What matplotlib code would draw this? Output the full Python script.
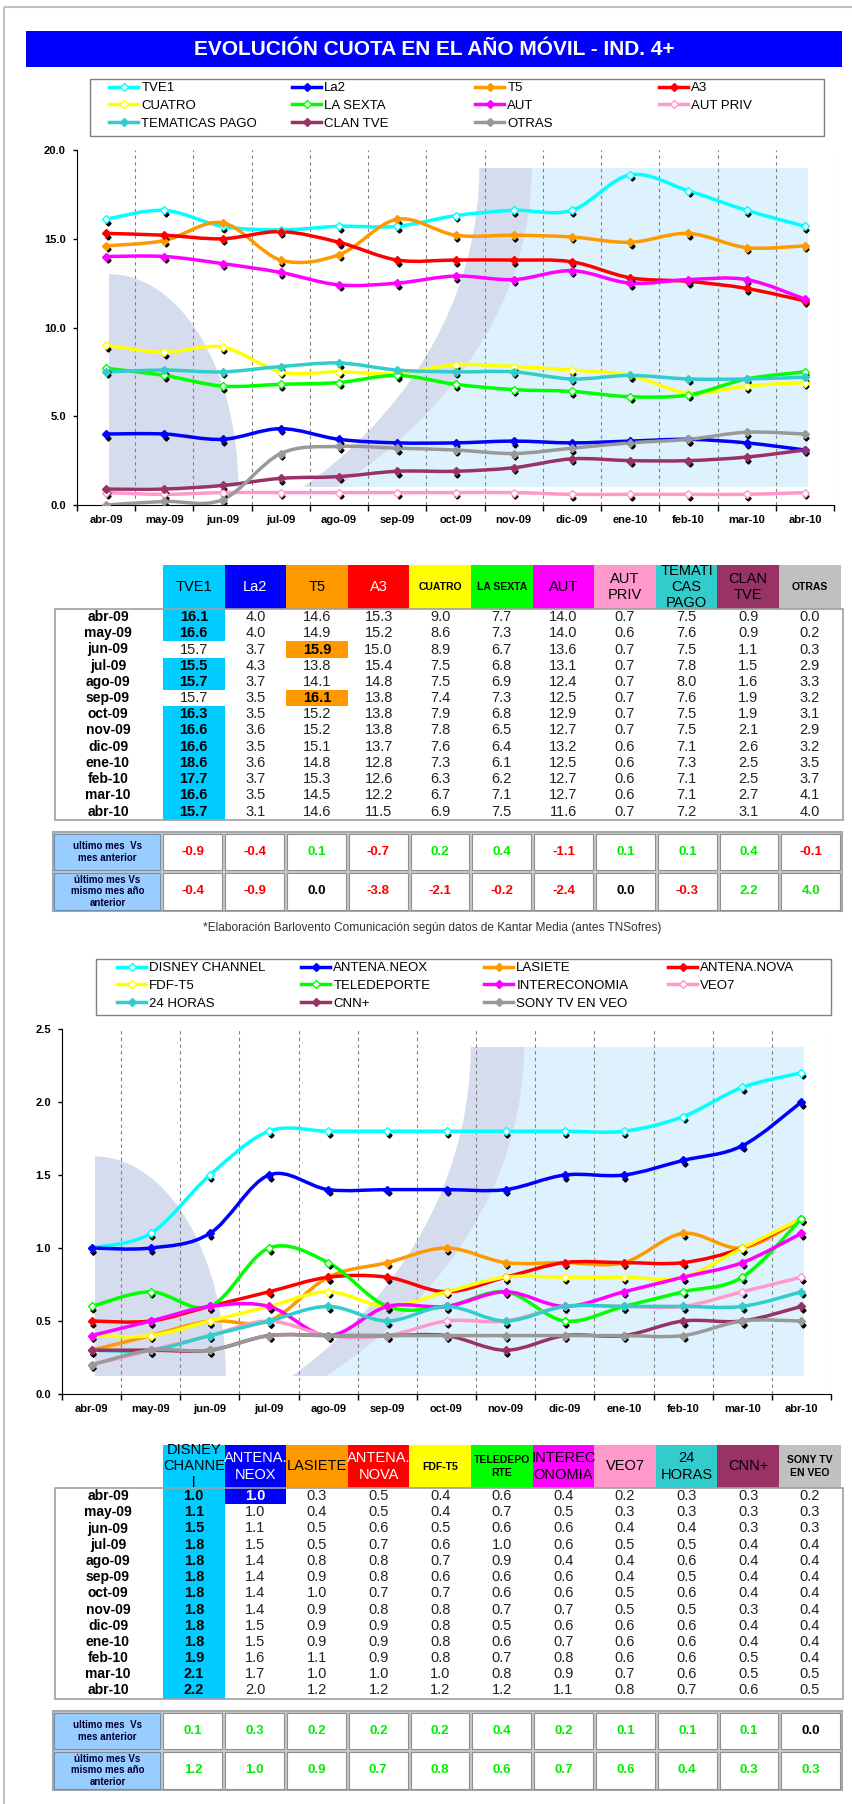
import numpy as np
import matplotlib
matplotlib.use("Agg")
import matplotlib.pyplot as plt
import matplotlib.transforms as mtransforms
from matplotlib.path import Path
from matplotlib.patches import PathPatch, Rectangle, Ellipse
from matplotlib.lines import Line2D

W, H = 853, 1804
plt.rcParams["font.family"] = ["Liberation Sans", "DejaVu Sans"]

months = ["abr-09", "may-09", "jun-09", "jul-09", "ago-09", "sep-09", "oct-09",
          "nov-09", "dic-09", "ene-10", "feb-10", "mar-10", "abr-10"]

# --- cadenas generalistas (cuota %, ind. 4+)
names1 = ["TVE1", "La2", "T5", "A3", "CUATRO", "LA SEXTA", "AUT", "AUT PRIV",
          "TEMATICAS PAGO", "CLAN TVE", "OTRAS"]
heads1 = ["TVE1", "La2", "T5", "A3", "CUATRO", "LA SEXTA", "AUT", "AUT\nPRIV",
          "TEMATI\nCAS\nPAGO", "CLAN\nTVE", "OTRAS"]
tve1 = [16.1, 16.6, 15.7, 15.5, 15.7, 15.7, 16.3, 16.6, 16.6, 18.6, 17.7, 16.6, 15.7]
la2 = [4.0, 4.0, 3.7, 4.3, 3.7, 3.5, 3.5, 3.6, 3.5, 3.6, 3.7, 3.5, 3.1]
t5 = [14.6, 14.9, 15.9, 13.8, 14.1, 16.1, 15.2, 15.2, 15.1, 14.8, 15.3, 14.5, 14.6]
a3 = [15.3, 15.2, 15.0, 15.4, 14.8, 13.8, 13.8, 13.8, 13.7, 12.8, 12.6, 12.2, 11.5]
cuatro = [9.0, 8.6, 8.9, 7.5, 7.5, 7.4, 7.9, 7.8, 7.6, 7.3, 6.3, 6.7, 6.9]
lasexta = [7.7, 7.3, 6.7, 6.8, 6.9, 7.3, 6.8, 6.5, 6.4, 6.1, 6.2, 7.1, 7.5]
aut = [14.0, 14.0, 13.6, 13.1, 12.4, 12.5, 12.9, 12.7, 13.2, 12.5, 12.7, 12.7, 11.6]
autpriv = [0.7, 0.6, 0.7, 0.7, 0.7, 0.7, 0.7, 0.7, 0.6, 0.6, 0.6, 0.6, 0.7]
tematicas = [7.5, 7.6, 7.5, 7.8, 8.0, 7.6, 7.5, 7.5, 7.1, 7.3, 7.1, 7.1, 7.2]
clantve = [0.9, 0.9, 1.1, 1.5, 1.6, 1.9, 1.9, 2.1, 2.6, 2.5, 2.5, 2.7, 3.1]
otras = [0.0, 0.2, 0.3, 2.9, 3.3, 3.2, 3.1, 2.9, 3.2, 3.5, 3.7, 4.1, 4.0]
var_mes1 = [-0.9, -0.4, 0.1, -0.7, 0.2, 0.4, -1.1, 0.1, 0.1, 0.4, -0.1]
var_anio1 = [-0.4, -0.9, 0.0, -3.8, -2.1, -0.2, -2.4, 0.0, -0.3, 2.2, 4.0]

# --- TDT
names2 = ["DISNEY CHANNEL", "ANTENA.NEOX", "LASIETE", "ANTENA.NOVA", "FDF-T5",
          "TELEDEPORTE", "INTERECONOMIA", "VEO7", "24 HORAS", "CNN+", "SONY TV EN VEO"]
heads2 = ["DISNEY\nCHANNE\nl", "ANTENA.\nNEOX", "LASIETE", "ANTENA.\nNOVA", "FDF-T5",
          "TELEDEPO\nRTE", "INTEREC\nONOMIA", "VEO7", "24\nHORAS", "CNN+", "SONY TV\nEN VEO"]
disney = [1.0, 1.1, 1.5, 1.8, 1.8, 1.8, 1.8, 1.8, 1.8, 1.8, 1.9, 2.1, 2.2]
neox = [1.0, 1.0, 1.1, 1.5, 1.4, 1.4, 1.4, 1.4, 1.5, 1.5, 1.6, 1.7, 2.0]
lasiete = [0.3, 0.4, 0.5, 0.5, 0.8, 0.9, 1.0, 0.9, 0.9, 0.9, 1.1, 1.0, 1.2]
nova = [0.5, 0.5, 0.6, 0.7, 0.8, 0.8, 0.7, 0.8, 0.9, 0.9, 0.9, 1.0, 1.2]
fdf = [0.4, 0.4, 0.5, 0.6, 0.7, 0.6, 0.7, 0.8, 0.8, 0.8, 0.8, 1.0, 1.2]
teledeporte = [0.6, 0.7, 0.6, 1.0, 0.9, 0.6, 0.6, 0.7, 0.5, 0.6, 0.7, 0.8, 1.2]
intereconomia = [0.4, 0.5, 0.6, 0.6, 0.4, 0.6, 0.6, 0.7, 0.6, 0.7, 0.8, 0.9, 1.1]
veo7 = [0.2, 0.3, 0.4, 0.5, 0.4, 0.4, 0.5, 0.5, 0.6, 0.6, 0.6, 0.7, 0.8]
horas24 = [0.3, 0.3, 0.4, 0.5, 0.6, 0.5, 0.6, 0.5, 0.6, 0.6, 0.6, 0.6, 0.7]
cnn = [0.3, 0.3, 0.3, 0.4, 0.4, 0.4, 0.4, 0.3, 0.4, 0.4, 0.5, 0.5, 0.6]
sony = [0.2, 0.3, 0.3, 0.4, 0.4, 0.4, 0.4, 0.4, 0.4, 0.4, 0.4, 0.5, 0.5]
var_mes2 = [0.1, 0.3, 0.2, 0.2, 0.2, 0.4, 0.2, 0.1, 0.1, 0.1, 0.0]
var_anio2 = [1.2, 1.0, 0.9, 0.7, 0.8, 0.6, 0.7, 0.6, 0.4, 0.3, 0.3]

series1 = [tve1, la2, t5, a3, cuatro, lasexta, aut, autpriv, tematicas, clantve, otras]
series2 = [disney, neox, lasiete, nova, fdf, teledeporte, intereconomia, veo7, horas24, cnn, sony]

# styles (same palette for both blocks)
line_cols = ["#00ffff", "#0000ff", "#ff9900", "#ff0000", "#ffff00", "#00ff00",
             "#ff00ff", "#ff99cc", "#33cccc", "#993366", "#999999"]
hollow = [True, False, False, False, True, True, False, True, False, False, False]
head_cols = ["#00ccff", "#0000ff", "#ff9900", "#ff0000", "#ffff00", "#00ff00",
             "#ff00ff", "#ff99cc", "#33cccc", "#993366", "#c0c0c0"]
head_txt = ["black", "white", "black", "white", "black", "black",
            "black", "black", "black", "black", "black"]

fig = plt.figure(figsize=(W / 100, H / 100), dpi=100)
ov = fig.add_axes([0, 0, 1, 1])
ov.set_xlim(0, W)
ov.set_ylim(H, 0)
ov.axis("off")


def smooth_path(x, y):
    # excel-like smoothed line: cubic bezier through the points
    pts = np.column_stack([x, y]).astype(float)
    n = len(pts)
    verts, codes = [pts[0]], [Path.MOVETO]
    for i in range(n - 1):
        p0 = pts[i - 1] if i > 0 else pts[i]
        p1, p2 = pts[i], pts[i + 1]
        p3 = pts[i + 2] if i + 2 < n else pts[i + 1]
        verts += [p1 + (p2 - p0) / 6.0, p2 - (p3 - p1) / 6.0, p2]
        codes += [Path.CURVE4] * 3
    return Path(verts, codes)


def backdrop(ax, x0, x1, y0, y1):
    w, h = x1 - x0, y1 - y0
    base = Rectangle((x0, y0), w, h, fc="#ddf2fc", ec="none", zorder=0.1)
    ax.add_patch(base)
    cx, cy = x0 - 0.17 * w, y1
    outer = Ellipse((cx, cy), 2 * 0.775 * w, 2 * 1.3 * h, fc="#d5dcee", ec="none", zorder=0.2)
    inner = Ellipse((cx, cy), 2 * 0.70 * w, 2 * 1.3 * h, fc="white", ec="none", zorder=0.25)
    corner = Ellipse((x0, y0), 2 * 0.185 * w, 2 * 0.667 * h, fc="#d5dcee", ec="none", zorder=0.3)
    for p in (outer, inner, corner):
        ax.add_patch(p)
        p.set_clip_path(base)


def draw_chart(rect, series, ymax, ystep, bg_y):
    ax = fig.add_axes(rect)
    x = np.arange(len(months))
    ax.set_xlim(-0.5, len(months) - 0.5)
    ax.set_ylim(0, ymax)
    backdrop(ax, 0.05, 12.05, bg_y[0], bg_y[1])
    shadow = mtransforms.offset_copy(ax.transData, fig=fig, x=1.5, y=-3.5, units="dots")
    handles = []
    for vals, col, hol in zip(series, line_cols, hollow):
        mfc = "white" if hol else col
        ax.add_patch(PathPatch(smooth_path(x, vals), fill=False, ec=col, lw=2.5, zorder=3))
        ax.plot(x, vals, ls="none", marker="D", ms=2.6, color="black", transform=shadow, zorder=4)
        ax.plot(x, vals, ls="none", marker="D", ms=4.2, mfc=mfc, mec=col, mew=1.0, zorder=5)
        handles.append(Line2D([], [], color=col, lw=2.5, marker="D", ms=4.2, mfc=mfc, mec=col))
    ax.set_xticks(x)
    ax.set_xticklabels(months, fontsize=8, fontweight="bold")
    ax.set_xticks(np.arange(-0.5, len(months)), minor=True)
    ax.tick_params(axis="x", which="major", length=0, pad=7)
    ax.tick_params(axis="x", which="minor", length=4, width=1, direction="out")
    ax.grid(which="minor", axis="x", color="#808080", ls=(0, (3, 3)), lw=0.8)
    ax.set_axisbelow(True)
    ax.set_yticks(np.arange(0, ymax + ystep / 2, ystep))
    ax.yaxis.set_major_formatter("{x:.1f}")
    ax.tick_params(axis="y", length=3, width=1, pad=5, labelsize=8)
    for lab in ax.get_yticklabels():
        lab.set_fontweight("bold")
    for s in ("top", "right"):
        ax.spines[s].set_visible(False)
    return handles


def draw_legend(handles, labels, box, col_x, top):
    ov.add_patch(Rectangle((box[0], box[1]), box[2] - box[0], box[3] - box[1],
                           fc="white", ec="#808080", lw=1))
    for c, xc in enumerate(col_x):
        fig.legend(handles[c::4], labels[c::4], loc="upper left",
                   bbox_to_anchor=(xc / W, 1 - top / H), frameon=False,
                   fontsize=9.5, handlelength=2.2, handletextpad=0.25,
                   labelspacing=0.42, borderpad=0, borderaxespad=0)


def draw_table(top, hdr_h, heads, series):
    x0, cw, rh = 163, 61.6, 16.2
    rows_top = top + hdr_h
    small = {"CUATRO", "LA SEXTA", "OTRAS", "FDF-T5", "TELEDEPO\nRTE", "SONY TV\nEN VEO"}
    for j, lab in enumerate(heads):
        cell = Rectangle((x0 + j * cw, top), cw, hdr_h, fc=head_cols[j], ec="none")
        ov.add_patch(cell)
        if lab in small:
            kw = dict(fontsize=7.5, fontweight="bold", linespacing=1.3)
        else:
            kw = dict(fontsize=10.5, linespacing=1.2)
        t = ov.text(x0 + (j + 0.5) * cw, top + hdr_h / 2, lab, ha="center", va="center",
                    color=head_txt[j], **kw)
        t.set_clip_path(cell)
    vals = np.array(series)
    for i, m in enumerate(months):
        yc = rows_top + (i + 0.5) * rh
        ov.text(108, yc, m, ha="center", va="center", fontsize=10, fontweight="bold")
        top_val = vals[:, i].max()
        for j in range(len(series)):
            v = vals[j, i]
            cx = x0 + (j + 0.5) * cw
            if v == top_val:
                ov.add_patch(Rectangle((x0 + j * cw, rows_top + i * rh), cw, rh,
                                       fc=head_cols[j], ec="none"))
                ov.text(cx, yc, f"{v:.1f}", ha="center", va="center", fontsize=10.5,
                        fontweight="bold", color=head_txt[j])
            else:
                ov.text(cx, yc, f"{v:.1f}", ha="center", va="center", fontsize=10.5,
                        color="#222222")
    ov.add_patch(Rectangle((55, rows_top), 843 - 55, len(months) * rh,
                           fc="none", ec="#a0a0a0", lw=1.2))


def draw_diff(top, row_a, row_b):
    left, lab_w, cw, rh = 53, 109, 61.8, 39.5
    labels = ["ultimo mes  Vs\nmes anterior", "último mes Vs\nmismo mes año\nanterior"]
    ov.add_patch(Rectangle((left, top), 842 - left, 2 * rh, fc="#c8c8c8", ec="#a8a8a8", lw=1.5))
    for r, (vals, lab) in enumerate(zip([row_a, row_b], labels)):
        y = top + r * rh
        ov.add_patch(Rectangle((left + 1.5, y + 1.5), lab_w - 3, rh - 3,
                               fc="#99ccff", ec="#6f8fb0", lw=0.8))
        ov.text(left + lab_w / 2, y + rh / 2, lab, ha="center", va="center",
                fontsize=7, fontweight="bold", color="#000033", linespacing=1.2)
        for j, v in enumerate(vals):
            cx0 = left + lab_w + j * cw
            ov.add_patch(Rectangle((cx0 + 1.5, y + 1.5), cw - 3, rh - 3,
                                   fc="white", ec="#909090", lw=0.8))
            col = "#ff0000" if v < 0 else ("#00ee00" if v > 0 else "black")
            ov.text(cx0 + cw / 2, y + rh / 2, f"{v:.1f}", ha="center", va="center",
                    fontsize=9.5, fontweight="bold", color=col)


# page frame and title
ov.add_patch(Rectangle((4, 7), W, H, fc="none", ec="#c0c0c0", lw=1.5))
ov.add_patch(Rectangle((26, 31), 842 - 26, 36, fc="#0000ff", ec="none"))
ov.text(434, 49.5, "EVOLUCIÓN CUOTA EN EL AÑO MÓVIL - IND. 4+", ha="center", va="center",
        color="white", fontsize=15, fontweight="bold")

# block 1
h1 = draw_chart([77 / W, 1 - 505 / H, (834 - 77) / W, 355 / H], series1, 20, 5, (1.0, 19.0))
draw_legend(h1, names1, (90, 79, 824, 136), [109, 292, 475, 659], 82)
draw_table(565, 44, heads1, series1)
draw_diff(832, var_mes1, var_anio1)
ov.text(432, 928, "*Elaboración Barlovento Comunicación según datos de Kantar Media (antes TNSofres)",
        ha="center", va="center", fontsize=8.6, color="#333333")

# block 2
h2 = draw_chart([62 / W, 1 - 1394 / H, (831 - 62) / W, 365 / H], series2, 2.5, 0.5, (0.12, 2.38))
draw_legend(h2, names2, (96, 959, 831, 1015), [117, 301, 484, 668], 962)
draw_table(1445, 43, heads2, series2)
draw_diff(1711, var_mes2, var_anio2)

fig.savefig("out.png", dpi=100)
